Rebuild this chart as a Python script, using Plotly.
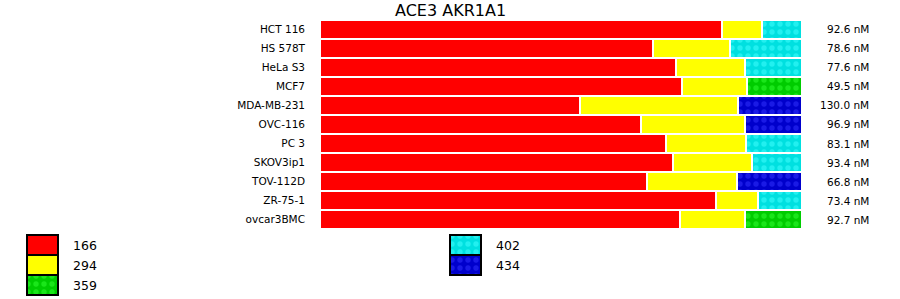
import plotly.graph_objects as go

cell_lines = ["HCT 116", "HS 578T", "HeLa S3", "MCF7", "MDA-MB-231", "OVC-116",
              "PC 3", "SKOV3ip1", "TOV-112D", "ZR-75-1", "ovcar3BMC"]
seg_166 = [83.4, 69.1, 73.9, 75.1, 53.9, 66.6, 71.8, 73.2, 67.8, 82.2, 74.7]
seg_294 = [8.3, 16.0, 14.3, 13.5, 32.8, 21.5, 16.6, 16.4, 18.7, 8.7, 13.5]
seg_359 = [None, None, None, 11.4, None, None, None, None, None, None, 11.8]
seg_402 = [8.3, 14.9, 11.8, None, None, None, 11.6, 10.4, None, 9.1, None]
seg_434 = [None, None, None, None, 13.3, 11.9, None, None, 13.5, None, None]
nm_labels = ["92.6 nM", "78.6 nM", "77.6 nM", "49.5 nM", "130.0 nM", "96.9 nM",
             "83.1 nM", "93.4 nM", "66.8 nM", "73.4 nM", "92.7 nM"]
title_text = "ACE3 AKR1A1"
legend_names = ["166", "294", "359", "402", "434"]

W, H = 900, 299
FONT = "DejaVu Sans"

styles = {
    "166": dict(color="#ff0000", pattern=None),
    "294": dict(color="#ffff00", pattern=None),
    "359": dict(color="#00cc00", pattern=dict(shape=".", fgcolor="#33ff33", bgcolor="#00cc00", size=8, solidity=0.35)),
    "402": dict(color="#00e0e0", pattern=dict(shape=".", fgcolor="#44ffff", bgcolor="#00e0e0", size=8, solidity=0.35)),
    "434": dict(color="#0000cc", pattern=dict(shape=".", fgcolor="#3333ff", bgcolor="#0000cc", size=8, solidity=0.35)),
}
series = {"166": seg_166, "294": seg_294, "359": seg_359, "402": seg_402, "434": seg_434}

fig = go.Figure()

cum = [0.0] * len(cell_lines)
for name in legend_names:
    vals = series[name]
    bases = []
    for i, v in enumerate(vals):
        bases.append(cum[i] if v is not None else None)
        if v is not None:
            cum[i] += v
    st = styles[name]
    marker = dict(color=st["color"], line=dict(color="white", width=2))
    if st["pattern"]:
        marker["pattern"] = st["pattern"]
    fig.add_trace(go.Bar(
        y=cell_lines, x=vals, base=bases, orientation="h", name=name,
        marker=marker, showlegend=False, hoverinfo="skip",
        xaxis="x", yaxis="y",
    ))

# Custom legend drawn as bars on a pixel-space overlay axis
for k, name in enumerate(legend_names):
    col, row = divmod(k, 3)
    bx = 27 + col * 423
    by = 235 + row * 20
    st = styles[name]
    marker = dict(color=st["color"], line=dict(color="black", width=2))
    if st["pattern"]:
        marker["pattern"] = st["pattern"]
    fig.add_trace(go.Bar(
        x=[bx + 15.5], y=[20], base=[by], width=[31],
        marker=marker, showlegend=False, hoverinfo="skip",
        xaxis="x2", yaxis="y2",
    ))
    fig.add_annotation(x=bx + 44, y=by + 10, xref="x2", yref="y2", text=name,
                       showarrow=False, xanchor="left", yanchor="middle",
                       font=dict(family=FONT, size=12.5, color="black"))

for cl, lab in zip(cell_lines, nm_labels):
    fig.add_annotation(x=871 / W, y=cl, xref="paper", yref="y", text=lab,
                       showarrow=False, xanchor="right", yanchor="middle",
                       font=dict(family=FONT, size=10.5, color="black"))

fig.add_annotation(x=0.5, y=1 - 10.5 / H, xref="paper", yref="paper", text=title_text,
                   showarrow=False, xanchor="center", yanchor="middle",
                   font=dict(family=FONT, size=16, color="black"))

fig.update_layout(
    width=W, height=H, autosize=False,
    margin=dict(l=0, r=0, t=0, b=0),
    paper_bgcolor="white", plot_bgcolor="rgba(0,0,0,0)",
    barmode="overlay", bargap=0,
    showlegend=False,
    xaxis=dict(domain=[320 / W, 802 / W], range=[0, 100], showgrid=False, zeroline=False,
               showticklabels=False, showline=False, fixedrange=True),
    yaxis=dict(domain=[1 - 229 / H, 1 - 20 / H], autorange="reversed", showgrid=False,
               zeroline=False, showline=False, ticks="", ticklabelstandoff=14,
               tickfont=dict(family=FONT, size=10.5, color="black"), fixedrange=True),
    xaxis2=dict(domain=[0, 1], range=[0, W], visible=False, anchor="y2", fixedrange=True),
    yaxis2=dict(domain=[0, 1], range=[H, 0], visible=False, anchor="x2", fixedrange=True),
)

fig.write_html("out.html")
